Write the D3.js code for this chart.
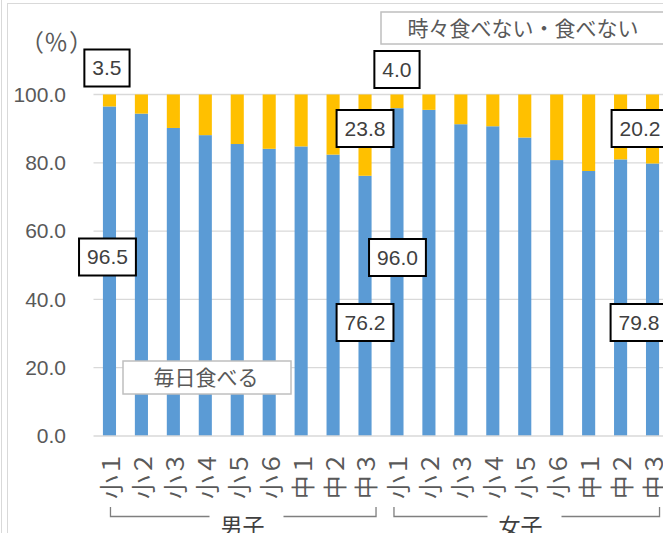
<!DOCTYPE html>
<html><head><meta charset="utf-8">
<script src="https://cdn.jsdelivr.net/npm/d3@7"></script>
<style>
html,body{margin:0;padding:0;background:#fff;overflow:hidden;}
svg{display:block;}
</style></head>
<body>
<svg id="chart" width="663" height="533"></svg>
<script>
// ---- data ----
const grades = ["小１","小２","小３","小４","小５","小６","中１","中２","中３"];
const groups = ["男子","女子"];
const maleEveryday   = [96.5, 94.4, 90.2, 88.1, 85.5, 84.1, 84.8, 82.4, 76.2];
const maleSometimes  = [3.5, 5.6, 9.8, 11.9, 14.5, 15.9, 15.2, 17.6, 23.8];
const femaleEveryday = [96.0, 95.5, 91.3, 90.7, 87.4, 80.8, 77.6, 81.0, 79.8];
const femaleSometimes= [4.0, 4.5, 8.7, 9.3, 12.6, 19.2, 22.4, 19.0, 20.2];
const seriesNames = ["毎日食べる","時々食べない・食べない"];
const unitLabel = ["（","％","）"];
const yTicks = [0, 20, 40, 60, 80, 100];
const labelledBars = [0, 8, 9, 17];

// ---- build ----
const rows = [];
groups.forEach((g, gi) => {
  const ev = gi === 0 ? maleEveryday : femaleEveryday;
  const so = gi === 0 ? maleSometimes : femaleSometimes;
  grades.forEach((gr, i) => rows.push({key: g + gr, group: g, grade: gr, everyday: ev[i], sometimes: so[i]}));
});

const svg = d3.select("#chart");
const C_BLUE = "#5B9BD5", C_YEL = "#FFC000", C_GRID = "#d9d9d9", C_TXT = "#595959";
const NUMFONT = "'Liberation Sans', 'Noto Sans CJK JP', sans-serif";
const JPFONT = "'Noto Sans CJK JP', sans-serif";

// chart border
svg.append("line").attr("x1",1.5).attr("x2",1.5).attr("y1",0).attr("y2",533).attr("stroke","#d9d9d9");
svg.append("rect").attr("x",7.5).attr("y",3.5).attr("width",700).attr("height",600)
  .attr("fill","none").attr("stroke","#d9d9d9");

const x = d3.scaleBand().domain(rows.map(d => d.key)).range([93.5, 668.5]).paddingInner(0.59).paddingOuter(0.295);
const y = d3.scaleLinear().domain([0, 100]).range([436, 94.5]);

// gridlines
svg.append("g").selectAll("line").data(yTicks.filter(t => t > 0)).join("line")
  .attr("x1", 93.5).attr("x2", 680).attr("y1", d => y(d)).attr("y2", d => y(d))
  .attr("stroke", C_GRID).attr("stroke-width", 1.3);

// y axis labels
const yAxis = d3.axisLeft(y).tickValues(yTicks).tickFormat(d3.format(".1f")).tickSize(0).tickPadding(0);
const yg = svg.append("g").attr("transform", "translate(66,0)").call(yAxis);
yg.select(".domain").remove();
yg.selectAll("text").attr("font-family", NUMFONT).attr("font-size", 21).attr("fill", C_TXT);

// bars
const stack = d3.stack().keys(["everyday","sometimes"])(rows);
const colors = [C_BLUE, C_YEL];
svg.append("g").selectAll("g").data(stack).join("g").attr("fill", (d, i) => colors[i])
  .selectAll("rect").data(d => d).join("rect")
  .attr("x", d => x(d.data.key)).attr("width", x.bandwidth())
  .attr("y", d => y(d[1])).attr("height", d => y(d[0]) - y(d[1]));

// x baseline
svg.append("line").attr("x1", 93.5).attr("x2", 680).attr("y1", y(0)).attr("y2", y(0))
  .attr("stroke", C_GRID).attr("stroke-width", 1.3);

// x tick labels (rotated)
svg.append("g").selectAll("text").data(rows).join("text")
  .attr("transform", d => `translate(${x(d.key) + x.bandwidth()/2 + 2},452) rotate(-90)`)
  .attr("text-anchor", "end").attr("dy", "0.36em")
  .attr("font-family", JPFONT).attr("font-size", 23.5).attr("fill", C_TXT)
  .text(d => d.grade);

// group brackets
const groupCenters = {"男子": 242.5, "女子": 520.5};
groups.forEach((g, gi) => {
  const keys = rows.filter(r => r.group === g).map(r => r.key);
  const x0 = x(keys[0]) + x.bandwidth()/2 + (gi === 0 ? 1 : -3);
  const x1 = x(keys[keys.length-1]) + x.bandwidth()/2 + (gi === 0 ? 11 : 7);
  const cx = groupCenters[g];
  const gg = svg.append("g").attr("stroke", "#7f7f7f").attr("stroke-width", 1.3).attr("fill", "none");
  gg.append("path").attr("d", `M${x0},507 V516.5 H${cx - 33}`);
  gg.append("path").attr("d", `M${cx + 41},516.5 H${x1} V507`);
  svg.append("text").attr("x", cx).attr("y", 534).attr("text-anchor", "middle")
    .attr("font-family", JPFONT).attr("font-size", 22).attr("fill", "#404040").text(g);
});

// unit label "（％）"
const unitX = [32, 56, 81];
const ut = svg.append("text").attr("y", 42.5).attr("dy", "0.35em").attr("text-anchor", "middle")
  .attr("font-family", JPFONT).attr("font-size", 24).attr("fill", C_TXT);
ut.selectAll("tspan").data(unitLabel).join("tspan").attr("x", (d, i) => unitX[i]).text(d => d);

// series legend boxes
function legendBox(bx, by, w, h, tx, txt) {
  svg.append("rect").attr("x", bx).attr("y", by).attr("width", w).attr("height", h)
    .attr("fill", "#fff").attr("stroke", "#bfbfbf").attr("stroke-width", 1.5);
  svg.append("text").attr("x", tx).attr("y", by + h/2).attr("dy", "0.36em").attr("text-anchor", "middle")
    .attr("font-family", JPFONT).attr("font-size", 21).attr("fill", C_TXT).text(txt);
}
legendBox(123, 361, 168, 33, 206, seriesNames[0]);
legendBox(381, 12, 300, 32, 523, seriesNames[1]);

// data labels
const labelOffsets = {
  0:  {ydx: -2.5, yy: y(100) - 26.5, bdx: -2,   by: 257},
  8:  {ydx: 0,    yy: y(100) + 34,   bdx: 0,    by: 322.5},
  9:  {ydx: 0,    yy: y(100) - 25,   bdx: 0.5,  by: 257.5},
  17: {ydx: -12.5,yy: y(100) + 34,   bdx: -13.5,by: 322.5}
};
function valueLabel(cx, cy, txt) {
  const g = svg.append("g");
  const t = g.append("text").attr("x", cx).attr("y", cy).attr("dy", "0.35em").attr("text-anchor", "middle")
    .attr("font-family", NUMFONT).attr("font-size", 21).attr("fill", "#404040").text(txt);
  const bb = t.node().getBBox();
  const w = bb.width + 16, h = 37;
  g.insert("rect", "text").attr("x", cx - w/2).attr("y", cy - h/2).attr("width", w).attr("height", h)
    .attr("fill", "#fff").attr("stroke", "#000").attr("stroke-width", 2);
}
labelledBars.forEach(i => {
  const d = rows[i], o = labelOffsets[i];
  const cx = x(d.key) + x.bandwidth()/2;
  valueLabel(cx + o.ydx, o.yy, d.sometimes.toFixed(1));
  valueLabel(cx + o.bdx, o.by, d.everyday.toFixed(1));
});
</script>
</body></html>
